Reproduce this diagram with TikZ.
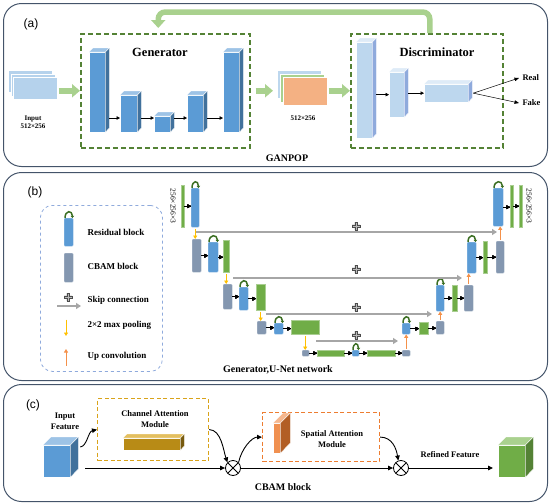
\documentclass[tikz,border=0pt]{standalone}
\usepackage{fontspec}
\setmainfont{Liberation Serif}
\newfontfamily\panelfont{Liberation Sans}
\usetikzlibrary{arrows.meta, calc}

\definecolor{panelblue}{HTML}{44546A}
\definecolor{dashgreen}{HTML}{548235}
\definecolor{resblue}{HTML}{5B9BD5}
\definecolor{resside}{HTML}{41719C}
\definecolor{restop}{HTML}{9DC3E6}
\definecolor{discblue}{HTML}{BDD7EE}
\definecolor{discside}{HTML}{8FAADC}
\definecolor{disctop}{HTML}{DEEBF7}
\definecolor{convgreen}{HTML}{70AD47}
\definecolor{cbamgray}{HTML}{8497B0}
\definecolor{loopgreen}{HTML}{3B6E22}
\definecolor{fatgreen}{HTML}{A9D18E}
\definecolor{salmon}{HTML}{F4B183}
\definecolor{poolyellow}{HTML}{FFC000}
\definecolor{uporange}{HTML}{F4914A}
\definecolor{legblue}{HTML}{8FAADC}
\definecolor{chgold}{HTML}{D9A31A}
\definecolor{sporange}{HTML}{ED7D31}

\tikzset{
  panel/.style={draw=panelblue, line width=1pt, rounded corners=18pt, anchor=north west, inner sep=0pt},
  gdash/.style={draw=dashgreen, line width=1.5pt, dash pattern=on 5pt off 3pt, anchor=north west, inner sep=0pt},
  legbox/.style={draw=legblue, line width=0.8pt, dashed, rounded corners=12pt, anchor=north west, inner sep=0pt},
  modbox/.style={line width=1.2pt, dash pattern=on 4pt off 2.5pt, anchor=north west, inner sep=0pt},
  tag/.style={font=\panelfont\fontsize{12}{14}\selectfont},
  title/.style={font=\fontsize{12.5}{14}\selectfont\bfseries},
  caption/.style={font=\fontsize{10}{12}\selectfont\bfseries},
  small/.style={font=\fontsize{7}{8.5}\selectfont\bfseries, align=center},
  legtext/.style={font=\fontsize{9}{11}\selectfont\bfseries, anchor=west},
  modtext/.style={font=\fontsize{8.5}{10.5}\selectfont\bfseries, align=center},
  stackrect/.style={draw=white, line width=0.6pt},
  gen front/.style={fill=resblue, draw=white, line width=0.3pt},
  gen top/.style={fill=restop, draw=white, line width=0.3pt},
  gen side/.style={fill=resside, draw=white, line width=0.3pt},
  disc front/.style={fill=discblue, draw=white, line width=0.3pt},
  disc top/.style={fill=disctop, draw=white, line width=0.3pt},
  disc side/.style={fill=discside, draw=white, line width=0.3pt},
  cin front/.style={fill=resblue, draw=white, line width=0.3pt},
  cin top/.style={fill=restop, draw=white, line width=0.3pt},
  cin side/.style={fill=resside, draw=white, line width=0.3pt},
  cout front/.style={fill=convgreen, draw=white, line width=0.3pt},
  cout top/.style={fill=fatgreen, draw=white, line width=0.3pt},
  cout side/.style={fill=dashgreen, draw=white, line width=0.3pt},
  gold front/.style={fill=chgold!85!black, draw=white, line width=0.3pt},
  gold top/.style={fill=chgold!70!white, draw=white, line width=0.3pt},
  gold side/.style={fill=chgold!55!black, draw=white, line width=0.3pt},
  slab front/.style={fill=sporange!85!white, draw=white, line width=0.3pt},
  slab top/.style={fill=sporange!55!white, draw=white, line width=0.3pt},
  slab side/.style={fill=sporange!75!black, draw=white, line width=0.3pt},
  res/.style={fill=resblue, draw=resblue!60!white, line width=0.4pt, rounded corners=1pt},
  cbam/.style={fill=cbamgray, draw=cbamgray!60!white, line width=0.4pt, rounded corners=1pt},
  conv/.style={fill=convgreen, draw=convgreen!60!white, line width=0.4pt},
  resloop/.style={draw=loopgreen, line width=1.5pt, -{Triangle[length=2.2pt,width=3.6pt]}},
  blk/.style={line width=0.5pt, -{Triangle[length=3.5pt,width=3.5pt]}},
  thinarrow/.style={line width=0.5pt, -{Triangle[length=4.5pt,width=3.5pt]}},
  flow/.style={line width=0.9pt, -{Triangle[length=5pt,width=4.5pt]}},
  fatarrow/.style={draw=fatgreen, line width=6pt, -{Triangle[length=8pt,width=13pt]}},
  feedback/.style={draw=fatgreen, line width=5.5pt, rounded corners=7pt, -{Triangle[length=8pt,width=14pt]}},
  skip/.style={draw=gray!70, line width=2pt, -{Triangle[length=5pt,width=6pt]}},
  pool/.style={draw=poolyellow, line width=0.9pt, shorten <=1.5pt, -{Triangle[length=3.5pt,width=4pt]}},
  upconv/.style={draw=uporange, line width=0.9pt, shorten <=1.5pt, -{Triangle[length=3.5pt,width=4pt]}},
  otimes/.style={circle, draw, line width=0.8pt, minimum size=15pt, inner sep=0pt,
    path picture={\draw[line width=0.8pt] (path picture bounding box.north west) -- (path picture bounding box.south east)
      (path picture bounding box.south west) -- (path picture bounding box.north east);}},
  plusmark/.pic={\filldraw[fill=gray!55, draw=gray!60!black, line width=0.4pt]
    (-1.3,-4) -- (1.3,-4) -- (1.3,-1.3) -- (4,-1.3) -- (4,1.3) -- (1.3,1.3) -- (1.3,4)
    -- (-1.3,4) -- (-1.3,1.3) -- (-4,1.3) -- (-4,-1.3) -- (-1.3,-1.3) -- cycle;}
}

% box node: style, name, x, y, width, height
\newcommand{\bx}[6]{\node[#1,anchor=north west,minimum width=#5pt,minimum height=#6pt,inner sep=0pt] (#2) at (#3,#4) {};}
% 3d block: style prefix, name, x, y, width, height, depth
\newcommand{\cuboid}[7]{%
  \bx{#1 front}{#2}{#3}{#4}{#5}{#6}
  \filldraw[#1 top] (#2.north west) -- ++(#7,-#7) -- ++(#5,0) -- (#2.north east) -- cycle;
  \filldraw[#1 side] (#2.north east) -- ++(#7,-#7) -- ++(0,#6) -- (#2.south east) -- cycle;}
\newcommand{\resloop}[1]{\draw[resloop] ([xshift=1pt]#1.north west) .. controls +(0,-8) and +(0,-8) .. ([xshift=-1pt]#1.north east);}

\begin{document}
\begin{tikzpicture}[x=1pt,y=-1pt]
  \useasboundingbox (0,0) rectangle (550,504);
  % panels
  \node[panel, minimum width=544pt, minimum height=163pt] (pa) at (3,3) {};
  \node[panel, minimum width=544pt, minimum height=208pt] (pb) at (3,172) {};
  \node[panel, minimum width=544pt, minimum height=117pt] (pc) at (3,384) {};
  \node[tag] (ta) at (31,24) {(a)};
  \node[tag] (tb) at (35,192) {(b)};
  \node[tag] (tc) at (33,405) {(c)};

  % ---------- (a) GANPOP ----------
  \node[gdash, minimum width=169pt, minimum height=114pt] (gbox) at (80,33) {};
  \node[gdash, minimum width=152pt, minimum height=114pt] (dbox) at (350,33) {};
  \node[title] (gtitle) at (160,52) {Generator};
  \node[title] (dtitle) at (437,52) {Discriminator};
  \node[caption] (gancap) at (287,158) {GANPOP};

  \bx{stackrect, fill=restop!75}{in1}{8}{70}{44}{22}
  \bx{stackrect, fill=restop!75}{in2}{10.5}{73.5}{44}{22}
  \bx{stackrect, fill=restop!75}{in3}{13}{77}{44}{22}
  \node[small] (inlab) at (33,122) {Input\\512×256};

  \cuboid{gen}{g1}{89}{52}{16}{80}{4}
  \cuboid{gen}{g2}{120}{95}{17}{37}{4}
  \cuboid{gen}{g3}{154}{116}{16}{16}{4}
  \cuboid{gen}{g4}{187}{95}{16}{37}{4}
  \cuboid{gen}{g5}{223}{52}{16}{80}{4}
  \coordinate (garrow) at (0,118);
  \foreach \a/\b in {g1/g2,g2/g3,g3/g4,g4/g5}
    \draw[blk] ([xshift=4pt]\a.east |- garrow) -- (\b.west |- garrow);

  \bx{stackrect, fill=discblue}{out1}{277}{70}{44}{28}
  \bx{stackrect, fill=fatgreen}{out2}{280}{73.5}{44}{28}
  \bx{stackrect, fill=salmon}{out3}{283}{77}{44}{28}
  \node[small] (outlab) at (303,118) {512×256};

  \cuboid{disc}{d1}{356}{42}{16}{96}{4}
  \cuboid{disc}{d2}{389}{72}{15}{45}{4}
  \cuboid{disc}{d3}{424}{84}{44}{18}{4}
  \draw[blk] ([xshift=4pt]d1.east |- d2.west) -- (d2.west);
  \draw[blk] ([xshift=4pt]d2.east |- d3.west) -- (d3.west);
  \node[small, anchor=west, font=\fontsize{8.5}{10}\selectfont\bfseries] (real) at (519,78) {Real};
  \node[small, anchor=west, font=\fontsize{8.5}{10}\selectfont\bfseries] (fake) at (519,103) {Fake};
  \draw[thinarrow] ([xshift=5pt]d3.east) -- (real.west);
  \draw[thinarrow] ([xshift=5pt]d3.east) -- (fake.west);

  \draw[fatarrow] ([xshift=1pt]in3.east |- gbox.west) -- (gbox.west);
  \draw[fatarrow] ([xshift=5pt]gbox.east) -- ([xshift=-4pt]out1.west |- gbox.east);
  \draw[fatarrow] ([xshift=1pt]out3.east |- dbox.west) -- (dbox.west);
  \draw[feedback] ([xshift=3pt]dbox.north) -- ++(0,-21) -| ([xshift=-7pt,yshift=5pt]gbox.north);

  % ---------- (b) U-Net ----------
  \node[legbox, minimum width=122pt, minimum height=166pt] (legend) at (40,205) {};
  \bx{res}{legres}{64}{218}{9}{28}
  \bx{cbam}{legcbam}{64}{253}{9}{29}
  \pic at (68,297) {plusmark};
  \coordinate (legsk1) at (57,306);
  \coordinate (legsk2) at (81,306);
  \draw[skip] (legsk1) -- (legsk2);
  \coordinate (legp1) at (66,318);
  \coordinate (legp2) at (66,336);
  \draw[pool] (legp1) -- (legp2);
  \coordinate (legu1) at (66,367);
  \coordinate (legu2) at (66,349);
  \draw[upconv] (legu1) -- (legu2);
  \node[legtext] (lt1) at (84,232) {Residual block};
  \node[legtext] (lt2) at (84,266) {CBAM block};
  \node[legtext] (lt3) at (84,300) {Skip connection};
  \node[legtext] (lt4) at (84,325) {2×2 max pooling};
  \node[legtext] (lt5) at (84,356) {Up convolution};

  % encoder
  \bx{conv}{c1l}{181}{185}{3}{42}
  \bx{res}{r1l}{191}{188}{8}{39}
  \bx{cbam}{b2l}{192}{239}{9}{33}
  \bx{res}{r2l}{208}{242}{10}{30}
  \bx{conv}{c2l}{223}{240}{6}{32}
  \bx{cbam}{b3l}{223}{284}{9}{25}
  \bx{res}{r3l}{239}{287}{9}{23}
  \bx{conv}{c3l}{256}{284}{9}{26}
  \bx{cbam}{b4l}{257}{321}{9}{13}
  \bx{res}{r4l}{274}{323}{9}{11}
  \bx{conv}{c4l}{291}{320}{28}{14}
  % bottleneck
  \bx{cbam}{b5a}{302}{350}{7}{6}
  \bx{conv}{c5a}{317}{350}{27}{6}
  \bx{res}{r5}{352}{350}{7}{6}
  \bx{conv}{c5b}{367}{350}{28}{6}
  \bx{cbam}{b5b}{402}{350}{8}{6}
  % decoder
  \bx{res}{r4r}{402}{323}{8}{11}
  \bx{conv}{c4r}{419}{322}{9}{12}
  \bx{cbam}{b4r}{436}{321}{8}{13}
  \bx{res}{r3r}{436}{285}{8}{26}
  \bx{conv}{c3r}{452}{285}{5}{26}
  \bx{cbam}{b3r}{464}{285}{9}{26}
  \bx{res}{r2r}{467}{242}{9}{31}
  \bx{conv}{c2r}{483}{241}{4}{32}
  \bx{cbam}{b2r}{496}{241}{8}{32}
  \bx{res}{r1r}{493}{188}{10}{38}
  \bx{conv}{c1ra}{510}{185}{3}{42}
  \bx{conv}{c1rb}{519}{185}{3}{42}

  \foreach \r in {legres,r1l,r2l,r3l,r4l,r5,r4r,r3r,r2r,r1r}
    \resloop{\r}
  \foreach \a/\b in {c1l/r1l,b2l/r2l,r2l/c2l,b3l/r3l,r3l/c3l,b4l/r4l,r4l/c4l,
                     b5a/c5a,c5a/r5,r5/c5b,c5b/b5b,r4r/c4r,c4r/b4r,r3r/c3r,c3r/b3r,
                     r2r/c2r,c2r/b2r,r1r/c1ra,c1ra/c1rb}
    \draw[blk] (\a.east) -- (\a.east -| \b.west);

  \draw[pool] (r1l.south) -- (r1l.south |- b2l.north);
  \draw[pool] (c2l.south) -- (c2l.south |- b3l.north);
  \draw[pool] (c3l.south) -- (c3l.south |- b4l.north);
  \draw[pool] (c4l.south) -- (c4l.south |- b5a.north);
  \draw[upconv] (b5b.north) -- (b5b.north |- r4r.south);
  \draw[upconv] (b4r.north) -- (b4r.north |- r3r.south);
  \draw[upconv] (b3r.north) -- (b3r.north |- r2r.south);
  \draw[upconv] (b2r.north) -- (b2r.north |- r1r.south);

  % skip connections
  \coordinate (sk1a) at (196,232);
  \coordinate (sk1b) at (497,232);
  \coordinate (sk2a) at (233,278);
  \coordinate (sk2b) at (462,278);
  \coordinate (sk3a) at (266,314);
  \coordinate (sk3b) at (432,314);
  \coordinate (sk4a) at (316,341);
  \coordinate (sk4b) at (398,341);
  \foreach \i/\y in {1/226,2/269,3/307,4/335}{
    \draw[skip] (sk\i a) -- (sk\i b);
    \pic at (356,\y) {plusmark};
  }
  \node[rotate=-90, font=\fontsize{7.5}{8}\selectfont] (szl) at (173,206) {256×256×3};
  \node[rotate=-90, font=\fontsize{7.5}{8}\selectfont] (szr) at (529,206) {256×256×3};
  \node[caption] (unetcap) at (278,370) {Generator,U-Net network};

  % ---------- (c) CBAM ----------
  \node[small, font=\fontsize{8.5}{11}\selectfont\bfseries] (inflab) at (65,421) {Input\\Feature};
  \cuboid{cin}{cin}{43}{445}{27}{32}{8}
  \cuboid{cout}{cout}{498}{445}{27}{32}{8}
  \node[modbox, draw=chgold, minimum width=111pt, minimum height=62pt] (chbox) at (97,398) {};
  \node[modbox, draw=sporange, minimum width=117pt, minimum height=49pt] (spbox) at (262,412) {};
  \node[modtext] (chlab) at (155,419) {Channel Attention\\Module};
  \node[modtext] (splab) at (332,439) {Spatial Attention\\Module};
  \cuboid{gold}{bar}{123}{438}{57}{12}{4}
  \cuboid{slab}{slab}{273}{423}{7}{30}{10}
  \node[otimes] (ot1) at (233,468) {};
  \node[otimes] (ot2) at (401,468) {};
  \node[modtext] (reflab) at (450,455) {Refined Feature};
  \node[caption] (cbamcap) at (283,487) {CBAM block};

  \draw[flow] ([xshift=10pt,yshift=-2pt]cin.north east) .. controls +(7,-1) and +(-9,2) .. (chbox.west);
  \draw[flow] ([xshift=15pt]cin.east |- ot1.west) -- (ot1.west);
  \draw[flow] (chbox.east) .. controls +(12,0) and +(-4,-12) .. (ot1.135);
  \draw[flow] (ot1.45) .. controls +(3,-14) and +(-10,0) .. (spbox.west);
  \draw[flow] (spbox.east) .. controls +(12,0) and +(-2,-12) .. (ot2.110);
  \draw[flow] (ot1.east) -- (ot2.west);
  \draw[flow] (ot2.east) -- ([xshift=-5pt]cout.west |- ot2.east);
\end{tikzpicture}
\end{document}
